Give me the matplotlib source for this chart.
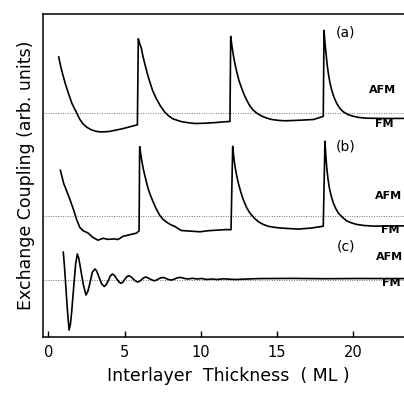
import matplotlib.pyplot as plt
import numpy as np

# curve (a): values relative to its zero line (arb. units)
xa = [0.68, 0.82, 0.96, 1.12, 1.29, 1.55, 1.84, 2.05, 2.28, 2.55, 2.82, 3.1, 3.37,
      3.7, 4.03, 4.90, 5.84,
      5.90, 5.98, 6.10, 6.20, 6.32, 6.48, 6.65, 6.85, 7.08, 7.35, 7.63, 7.9, 8.18,
      8.72, 9.2, 9.62, 10.3, 10.93, 11.91,
      11.96, 12.04, 12.13, 12.24, 12.35, 12.5, 12.68, 12.85, 13.01, 13.22, 13.44,
      13.7, 13.99, 14.3, 14.65, 15.1, 15.52, 16.39, 17.38, 18.03,
      18.08, 18.14, 18.21, 18.28, 18.36, 18.46, 18.58, 18.74, 18.91, 19.1, 19.34,
      19.65, 20.0, 20.4, 20.88, 22.19, 23.28]
ya = [5.60, 4.6, 3.77, 2.9, 2.09, 0.95, 0.07, -0.6, -1.10, -1.45, -1.68, -1.82, -1.89,
      -1.88, -1.84, -1.56, -1.18,
      7.42, 7.0, 6.47, 5.7, 4.96, 4.0, 3.12, 2.2, 1.44, 0.7, 0.10, -0.3, -0.59,
      -0.86, -0.98, -1.05, -1.02, -0.96, -0.84,
      7.66, 6.7, 5.81, 4.9, 4.15, 3.25, 2.47, 1.8, 1.29, 0.7, 0.28,
      -0.05, -0.30, -0.5, -0.65, -0.74, -0.78, -0.73, -0.65, -0.34,
      8.26, 7.0, 5.99, 4.9, 3.99, 3.1, 2.31, 1.55, 0.97, 0.5, 0.12,
      -0.15, -0.33, -0.45, -0.52, -0.55, -0.54]

# curve (b)
xb = [0.79, 1.01, 1.23, 1.44, 1.67, 1.84, 2.06, 2.28, 2.60, 2.93, 3.26, 3.59,
      3.91, 4.29, 4.57, 4.90, 5.34, 5.77, 5.95,
      5.99, 6.06, 6.14, 6.22, 6.32, 6.43, 6.54, 6.7, 6.87, 7.08, 7.30, 7.5, 7.74,
      8.0, 8.29, 8.5, 8.72, 9.18, 9.95, 10.49, 11.15, 11.59, 11.98,
      12.09, 12.16, 12.24, 12.35, 12.46, 12.62, 12.79, 13.0, 13.23, 13.5, 13.77,
      14.1, 14.43, 14.85, 15.30, 16.39, 17.27, 18.03,
      18.14, 18.2, 18.26, 18.34, 18.43, 18.55, 18.69, 18.85, 19.02, 19.28, 19.57,
      19.9, 20.22, 20.7, 21.31, 23.28]
yb = [4.57, 3.24, 2.39, 1.55, 0.55, -0.29, -1.13, -1.47, -1.70, -2.15, -2.42, -2.23,
      -2.34, -2.29, -2.35, -2.03, -1.87, -1.72, -1.49,
      6.94, 6.2, 5.44, 4.75, 4.10, 3.4, 2.76, 2.05, 1.42, 0.7, 0.08, -0.3, -0.60,
      -0.85, -1.04, -1.25, -1.45, -1.50, -1.58, -1.47, -1.41, -1.36, -1.37,
      6.97, 5.9, 4.97, 4.05, 3.29, 2.4, 1.61, 0.85, 0.27, -0.2, -0.57,
      -0.85, -1.03, -1.14, -1.21, -1.31, -1.20, -1.02,
      7.48, 6.0, 4.81, 3.7, 2.81, 2.0, 1.30, 0.75, 0.29, -0.12, -0.49,
      -0.7, -0.84, -0.95, -1.01, -0.99]

# curve (c)
xc = [0.98, 1.06, 1.14, 1.25, 1.36, 1.45, 1.53, 1.61, 1.69, 1.79, 1.90, 1.99, 2.08,
      2.19, 2.30, 2.47, 2.58, 2.69, 2.89, 3.06, 3.17, 3.28, 3.50, 3.67, 3.80, 3.93,
      4.06, 4.20, 4.34, 4.49, 4.63, 4.77, 4.90, 5.03, 5.16, 5.29, 5.43, 5.57, 5.71,
      5.86, 6.0, 6.12, 6.26, 6.39, 6.52, 6.67, 6.81, 6.95, 7.1, 7.24, 7.39, 7.54,
      7.68, 7.82, 7.95, 8.09, 8.24, 8.4, 8.55, 8.70, 8.94, 9.18, 9.45, 9.75, 10.06,
      10.4, 10.72, 11.1, 11.48, 12.24, 13.77, 15.96, 18.14, 20.33, 23.32]
yc = [2.78, 1.3, -0.5, -3.0, -5.0, -4.4, -3.2, -1.7, -0.2, 1.6, 2.6, 2.2, 1.45,
      0.45, -0.5, -1.5, -1.2, -0.55, 0.8, 1.1, 0.9, 0.45, -0.4, -0.65, -0.45, -0.05,
      0.4, 0.6, 0.45, 0.1, -0.2, -0.33, -0.2, 0.1, 0.35, 0.43, 0.3, 0.1, -0.1,
      -0.2, -0.12, 0.05, 0.22, 0.3, 0.22, 0.1, 0.0, -0.08, 0.0, 0.12, 0.22, 0.25,
      0.18, 0.08, 0.02, 0.0, 0.07, 0.18, 0.24, 0.25, 0.15, 0.1, 0.17, 0.1, 0.15,
      0.05, 0.1, 0.05, 0.12, 0.05, 0.14, 0.16, 0.13, 0.15, 0.14]

offsets = {'a': 22.4, 'b': 12.1, 'c': 5.7}
xticks = [0, 5, 10, 15, 20]

fig = plt.figure(figsize=(4.04, 3.93), dpi=100)
ax = fig.add_axes([43 / 404, 56 / 393, 371.3 / 404, 323 / 393])

for x, y, k in [(xa, ya, 'a'), (xb, yb, 'b'), (xc, yc, 'c')]:
    ax.axhline(offsets[k], color='0.45', lw=0.7, ls=(0, (1, 1.5)))
    ax.plot(x, np.array(y) + offsets[k], color='black', lw=1.2)

ax.set_xlim(-0.35, 24)
ax.set_ylim(0, 32.3)
ax.set_xticks(xticks)
ax.set_yticks([])
ax.tick_params(axis='x', direction='in', length=4.5, width=1, labelsize=10.5, pad=6)
ax.spines['right'].set_visible(False)
for s in ['left', 'bottom', 'top']:
    ax.spines[s].set_linewidth(1.1)

ax.set_xlabel('Interlayer  Thickness  ( ML )', fontsize=12.5, labelpad=5)
ax.set_ylabel('Exchange Coupling (arb. units)', fontsize=12.5, labelpad=6)

for t, x, y in [('(a)', 19.5, 30.4), ('(b)', 19.5, 19.0), ('(c)', 19.5, 9.1)]:
    ax.text(x, y, t, fontsize=10, ha='center', va='center')
for t, x, y in [('AFM', 21.9, 24.7), ('FM', 22.0, 21.3),
                ('AFM', 22.3, 14.1), ('FM', 22.4, 10.7),
                ('AFM', 22.4, 8.0), ('FM', 22.5, 5.4)]:
    ax.text(x, y, t, fontsize=8, fontweight='bold', ha='center', va='center')

fig.savefig('out.png', dpi=100)
